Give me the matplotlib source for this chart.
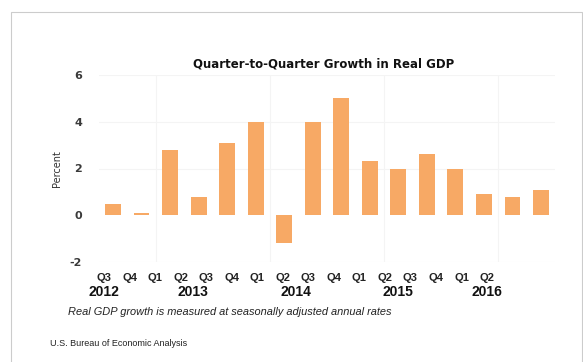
import matplotlib
matplotlib.use("Agg")
import matplotlib.pyplot as plt
import matplotlib.transforms as mtransforms
from matplotlib.patches import Rectangle

quarters = ["Q3", "Q4", "Q1", "Q2", "Q3", "Q4", "Q1", "Q2",
            "Q3", "Q4", "Q1", "Q2", "Q3", "Q4", "Q1", "Q2"]
growth = [0.5, 0.1, 2.8, 0.8, 3.1, 4.0, -1.2, 4.0,
          5.0, 2.3, 2.0, 2.6, 2.0, 0.9, 0.8, 1.1]
years = ["2012", "2013", "2014", "2015", "2016"]
year_pos = [0, 3.5, 7.5, 11.5, 15]
y_ticks = [-2, 0, 2, 4, 6]
year_breaks = [1.5, 5.5, 9.5, 13.5]

W, H = 583, 362
fig = plt.figure(figsize=(W / 100, H / 100), dpi=100)
fig.patch.set_facecolor("white")


def fx(px):
    return px / W


def fy(py):
    return 1 - py / H


# outer frame
fig.patches.append(Rectangle((fx(11), fy(368)), fx(582) - fx(11), fy(12) - fy(368),
                             transform=fig.transFigure, fill=False,
                             edgecolor="#cccccc", lw=0.8))

# main bar axes
ax_l, ax_r = fx(98.7), fx(555.3)
ax = fig.add_axes([ax_l, fy(262), ax_r - ax_l, fy(75) - fy(262)])
x = list(range(len(growth)))
ax.bar(x, growth, width=0.56, color="#F7A965", zorder=3)
ax.set_xlim(-0.5, 15.5)
ax.set_ylim(-2, 6)
for s in ax.spines.values():
    s.set_visible(False)
ax.set_xticks([])
ax.set_yticks(y_ticks)
ax.set_yticklabels([str(t) for t in y_ticks], fontsize=8, fontweight="bold",
                   color="#3a3a3a")
ax.tick_params(axis="y", length=0, pad=12)
for t in y_ticks:
    if t != 0:
        ax.axhline(t, color="#f4f4f4", lw=0.8, zorder=1)
for b in year_breaks:
    ax.axvline(b, color="#f4f4f4", lw=0.8, zorder=1)
ax.set_ylabel("Percent", fontsize=7, color="#333333")
ax.yaxis.set_label_coords((fx(62) - ax_l) / (ax_r - ax_l), 0.5)

# category labels under the chart
lab = fig.add_axes([fx(91.2), fy(300), fx(499.8) - fx(91.2), 0.01])
lab.set_xlim(-0.5, 15.5)
lab.axis("off")
blend = mtransforms.blended_transform_factory(lab.transData, fig.transFigure)
for i, q in enumerate(quarters):
    lab.text(i, fy(278), q, transform=blend,
             ha="center", va="center", fontsize=8, fontweight="bold",
             family="Liberation Sans", color="#222222")
for p, yr in zip(year_pos, years):
    lab.text(p, fy(292), yr, transform=blend,
             ha="center", va="center", fontsize=10, fontweight="bold",
             family="Liberation Sans", color="#111111")

fig.text(fx(324), fy(64), "Quarter-to-Quarter Growth in Real GDP",
         ha="center", va="center", fontsize=8.5, fontweight="bold", color="#111111")
fig.text(fx(68), fy(312), "Real GDP growth is measured at seasonally adjusted annual rates",
         ha="left", va="center", fontsize=7.9, style="italic",
         family="Liberation Sans", color="#222222")
fig.text(fx(50), fy(343), "U.S. Bureau of Economic Analysis",
         ha="left", va="center", fontsize=6.5, family="Liberation Sans", color="#222222")

fig.savefig("out.png", dpi=100)
